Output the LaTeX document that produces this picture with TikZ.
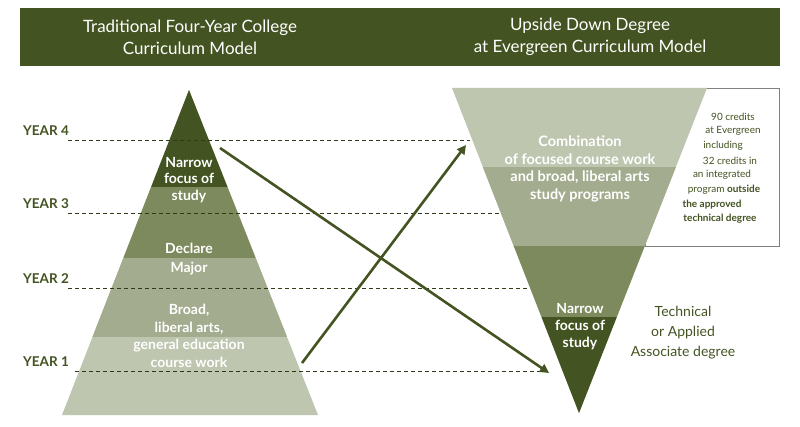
\documentclass[tikz,border=0pt]{standalone}
\usepackage{fontspec}
\setmainfont{Lato}
\usetikzlibrary{arrows.meta}
\definecolor{dg}{HTML}{435321}
\definecolor{mg}{HTML}{7D8A5D}
\definecolor{lg}{HTML}{A3AC8E}
\definecolor{xg}{HTML}{BEC6B0}
\begin{document}
\begin{tikzpicture}[x=1pt,y=-1pt,
  wt/.style={text=white,align=center,inner sep=0},
  hd/.style={text=white,font=\fontsize{17}{22}\selectfont,align=center,inner sep=0},
  yr/.style={text=dg,font=\bfseries\fontsize{13.5}{14}\selectfont,anchor=west,inner sep=0},
  sm/.style={text=dg,font=\fontsize{10}{10}\selectfont,inner sep=0},
  sb/.style={text=dg,font=\bfseries\fontsize{10}{10}\selectfont,inner sep=0},
  dl/.style={dash pattern=on 4pt off 3pt,draw=dg!70!black,line width=0.6pt},
  ar/.style={draw=dg,line width=2.6pt,-{Triangle[length=9pt,width=9pt]}}]
\useasboundingbox (0,0) rectangle (800,427);
\fill[dg] (20,8) rectangle (780,66);
\node[hd] (h1) at (190,37) {Traditional Four-Year College\\Curriculum Model};
\node[hd] (h2) at (590,37) {Upside Down Degree\\at Evergreen Curriculum Model};
% left pyramid
\fill[xg] (62,415) -- (318,415) -- (189,90) -- cycle;
\begin{scope}
\clip (62,415) -- (318,415) -- (189,90) -- cycle;
\fill[lg] (0,258) rectangle (400,337);
\fill[mg] (0,187) rectangle (400,258);
\fill[dg] (0,80) rectangle (400,187);
\end{scope}
% box
\draw[gray,line width=0.8pt,fill=white] (645,88) rectangle (779,246);
% right triangle
\fill[xg] (452,88) -- (707,88) -- (579,413) -- cycle;
\begin{scope}
\clip (452,88) -- (707,88) -- (579,413) -- cycle;
\fill[lg] (440,167) rectangle (720,246);
\fill[mg] (440,246) rectangle (720,317);
\fill[dg] (440,317) rectangle (720,420);
\end{scope}
% dashed lines
\coordinate (d4a) at (68,140); \coordinate (d4b) at (470,140);
\coordinate (d3a) at (68,213); \coordinate (d3b) at (500,213);
\coordinate (d2a) at (68,288); \coordinate (d2b) at (530,288);
\coordinate (d1a) at (75,371); \coordinate (d1b) at (550,371);
\draw[dl] (d4a)--(d4b); \draw[dl] (d3a)--(d3b); \draw[dl] (d2a)--(d2b); \draw[dl] (d1a)--(d1b);
\node[yr] (y4) at (23,131) {YEAR 4};
\node[yr] (y3) at (23,204) {YEAR 3};
\node[yr] (y2) at (23,279) {YEAR 2};
\node[yr] (y1) at (23,362) {YEAR 1};
% left texts
\node[wt,font=\bfseries\fontsize{14}{16.5}\selectfont] (ln) at (189,180) {Narrow\\focus of\\study};
\node[wt,font=\bfseries\fontsize{14}{19}\selectfont] (ld) at (189,259) {Declare\\Major};
\node[wt,font=\bfseries\fontsize{14}{17.7}\selectfont] (lb) at (189,336) {Broad,\\liberal arts,\\general education\\course work};
% right texts
\node[wt,font=\bfseries\fontsize{14.5}{17.7}\selectfont] (rc) at (580,169) {Combination\\of focused course work\\and broad, liberal arts\\study programs};
\node[wt,font=\bfseries\fontsize{14}{17}\selectfont] (rn) at (580,327) {Narrow\\focus of\\study};
\node[text=dg,font=\fontsize{14}{20}\selectfont,align=center,inner sep=0] (ta) at (683,333) {Technical\\or Applied\\Associate degree};
\node[sm] (s1) at (733,117) {90 credits};
\node[sm] (s2) at (733,131) {at Evergreen};
\node[sm] (s3) at (723,146) {including};
\node[sm] (s4) at (730,161) {32 credits in};
\node[sm] (s5) at (722,175) {an integrated};
\node[sm] (s6) at (724,190) {program \textbf{outside}};
\node[sb] (s7) at (712,205) {the approved};
\node[sb] (s8) at (720,219) {technical degree};
% arrows
\coordinate (a1s) at (302,363); \coordinate (a1e) at (466,145);
\coordinate (a2s) at (220,148); \coordinate (a2e) at (549,373);
\draw[ar] (a1s) -- (a1e);
\draw[ar] (a2s) -- (a2e);
\end{tikzpicture}
\end{document}
